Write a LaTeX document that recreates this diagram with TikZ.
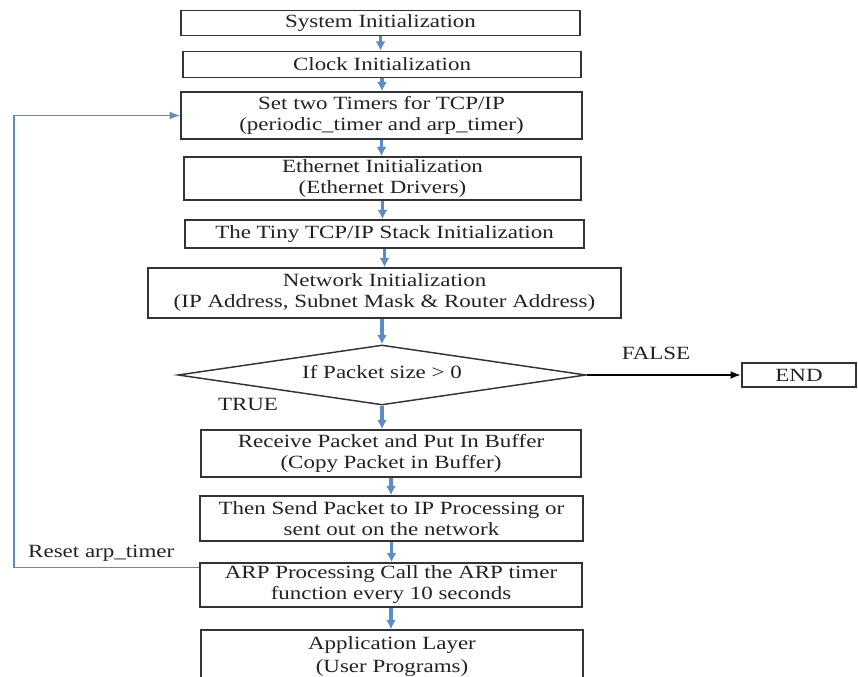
\documentclass[tikz,border=0pt]{standalone}
\usepackage{fontspec}
\setmainfont{Liberation Serif}[FakeStretch=1.23]
\usepackage{xcolor}
\definecolor{flowBlue}{HTML}{5B8CC6}
\definecolor{boxGray}{HTML}{333333}
\definecolor{textDark}{HTML}{222222}
\usetikzlibrary{arrows.meta,positioning,shapes.geometric,calc}
\tikzset{
  >={Latex[length=7pt,width=7.5pt]},
  every picture/.append style={font=\fontsize{14}{15.75}\selectfont},
  stepbox/.style={rectangle,draw=boxGray,line width=1.2pt,fill=white,inner sep=1pt,align=center,text=textDark},
  decision/.style={diamond,draw=boxGray,line width=1.1pt,fill=white,aspect=6.8,inner sep=1pt,align=center,text=textDark},
  flowarrow/.style={->,draw=flowBlue,line width=2.4pt},
  looparrow/.style={-{Latex[length=8pt,width=6pt]},draw=flowBlue,line width=1.1pt},
  falsearrow/.style={-{Latex[length=8pt,width=6pt]},draw=black,line width=2pt},
  branchlabel/.style={text=textDark},
}
\begin{document}
\begin{tikzpicture}[x=0.75pt,y=-0.75pt]
  \useasboundingbox (0,0) rectangle (858,677);
  \clip (0,0) rectangle (858,677);

  % initialization chain
  \node[stepbox, minimum width=399*0.75pt, minimum height=25*0.75pt] (sysinit) at (380.5,23) {System Initialization};
  \node[stepbox, minimum width=398*0.75pt, minimum height=26*0.75pt] (clkinit) at (382,64.5) {Clock Initialization};
  \node[stepbox, minimum width=401*0.75pt, minimum height=47*0.75pt] (timers) at (381.5,115.5) {Set two Timers for TCP/IP\\(periodic\_timer and arp\_timer)};
  \node[stepbox, minimum width=397*0.75pt, minimum height=43*0.75pt] (ethinit) at (382.5,178.5) {Ethernet Initialization\\(Ethernet Drivers)};
  \node[stepbox, minimum width=399*0.75pt, minimum height=28*0.75pt] (stackinit) at (384.5,234) {The Tiny TCP/IP Stack Initialization};
  \node[stepbox, minimum width=473*0.75pt, minimum height=50*0.75pt] (netinit) at (384.5,293) {Network Initialization\\(IP Address, Subnet Mask \& Router Address)};

  % decision
  \node[decision, minimum width=408*0.75pt, minimum height=60*0.75pt] (pktsize) at (382,375) {\raisebox{4pt}{If Packet size > 0}};
  \node[stepbox, minimum width=114*0.75pt, minimum height=24*0.75pt] (finish) at (799,375) {END};

  % packet handling
  \node[stepbox, minimum width=380*0.75pt, minimum height=47*0.75pt] (receive) at (391,453.5) {Receive Packet and Put In Buffer\\(Copy Packet in Buffer)};
  \node[stepbox, minimum width=383*0.75pt, minimum height=45*0.75pt] (sendip) at (391.5,518.5) {Then Send Packet to IP Processing or\\sent out on the network};
  \node[stepbox, minimum width=382*0.75pt, minimum height=44*0.75pt] (arp) at (391,585) {ARP Processing Call the ARP timer\\function every 10 seconds};
  \node[stepbox, minimum width=382*0.75pt, minimum height=53*0.75pt] (applayer) at (392,656.5) {Application Layer\\[2pt](User Programs)};

  % connectors
  \draw[flowarrow] (sysinit.south) -- (sysinit.south |- clkinit.north);
  \draw[flowarrow] (clkinit.south) -- (clkinit.south |- timers.north);
  \draw[flowarrow] (timers.south) -- (timers.south |- ethinit.north);
  \draw[flowarrow] (ethinit.south) -- (ethinit.south |- stackinit.north);
  \draw[flowarrow] (stackinit.south) -- (stackinit.south |- netinit.north);
  \draw[flowarrow] (pktsize.north |- netinit.south) -- (pktsize.north);
  \draw[flowarrow] (pktsize.south) -- (pktsize.south |- receive.north);
  \draw[flowarrow] (receive.south) -- (receive.south |- sendip.north);
  \draw[flowarrow] (sendip.south) -- (sendip.south |- arp.north);
  \draw[flowarrow] (arp.south) -- (arp.south |- applayer.north);

  \draw[falsearrow] (pktsize.east) -- (finish.west);
  \node[branchlabel] (falselbl) at (656,353) {FALSE};
  \node[branchlabel] (truelbl) at (248,404) {TRUE};

  % reset loop
  \draw[looparrow] ([yshift=-4pt]arp.north west) -- ++(-185,0) coordinate (loopcorner) |- (timers.west);
  \node[branchlabel, anchor=south west] (resetlbl) at ([xshift=7pt,yshift=1pt]loopcorner) {Reset arp\_timer};
\end{tikzpicture}
\end{document}
